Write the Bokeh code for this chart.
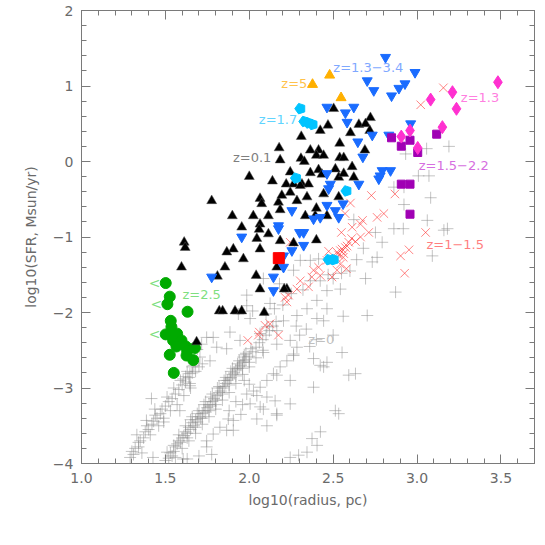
import math
from bokeh.plotting import figure
from bokeh.models import LinearAxis, SingleIntervalTicker, PrintfTickFormatter, CustomJSTickFormatter
from bokeh.core.properties import value
from bokeh.embed import file_html
from bokeh.resources import INLINE

# ---------------- data ----------------
# z=0 (gray plus)
z0_x = [1.29, 1.31, 1.32, 1.34, 1.35, 1.37, 1.38, 1.40, 1.42, 1.43, 1.45, 1.47, 1.48, 1.50, 1.52, 1.54, 1.56, 1.58, 1.60, 1.62, 1.64, 1.66, 1.68, 1.70, 1.72,
        1.33, 1.36, 1.41, 1.46, 1.49, 1.53, 1.57, 1.61, 1.65, 1.417, 1.437, 1.387, 1.646, 1.646, 1.586, 1.49, 1.426, 1.606, 1.63,
        1.716, 1.69, 1.746, 1.806, 1.766, 1.706, 1.606, 1.646, 1.66, 1.62,
        1.50, 1.52, 1.53, 1.55, 1.56, 1.57, 1.58, 1.60, 1.61, 1.62, 1.63, 1.64, 1.65, 1.66, 1.67, 1.68, 1.69, 1.70, 1.71, 1.72, 1.73, 1.74, 1.75, 1.76, 1.77, 1.78,
        1.79, 1.80, 1.81, 1.82, 1.83, 1.84, 1.85, 1.86, 1.87, 1.88, 1.89, 1.90, 1.91, 1.92, 1.93, 1.94, 1.95, 1.96, 1.97, 1.98, 2.00, 2.02, 2.04, 2.06, 2.08, 2.10,
        2.12, 2.14, 2.16,
        1.54, 1.59, 1.63, 1.68, 1.72, 1.76, 1.80, 1.84, 1.88, 1.92, 1.96, 2.00, 1.65, 1.70, 1.74, 1.78, 1.82, 1.86, 1.90, 1.94, 1.98,
        1.746, 1.785, 1.865, 1.905, 1.746, 1.825, 1.875, 1.905, 2.045, 2.065, 2.105, 2.154, 2.164, 2.005, 1.985, 2.025, 2.065, 2.105, 2.144, 2.184, 2.224, 2.264,
        2.284, 2.244, 2.164, 2.105, 2.084, 2.045, 2.383, 2.244, 2.164, 1.776, 1.70, 1.95, 1.96, 1.88, 1.92, 2.00, 1.97,
        2.553, 2.443, 2.383, 2.423, 2.513, 2.533, 2.424, 2.374, 2.404, 2.344, 2.294, 2.244, 2.593, 2.633,
        2.304, 2.364, 2.264, 2.084, 2.423, 2.463, 2.543, 2.403, 2.344, 2.463, 2.284, 2.403, 2.204, 1.985, 2.005, 2.124, 1.785, 1.885, 1.945, 2.244, 2.164, 2.264,
        2.463, 1.865, 1.965, 2.084, 2.064, 2.105, 2.164, 2.364, 2.443, 2.34, 2.30, 1.985, 1.935, 2.02,
        2.623, 2.762, 2.693, 2.733, 2.872, 2.703, 2.792, 2.752, 2.862, 2.918, 3.061, 3.091, 3.181, 3.16, 2.922, 3.081, 2.922, 2.862, 3.008, 3.071, 2.932, 3.057,
        3.19, 2.60, 2.64, 2.68, 2.50, 2.413,
        1.51, 1.55, 1.58, 1.62, 1.66, 1.69, 1.73, 1.77, 1.81, 1.85, 1.89, 1.93, 1.97, 2.01,
        1.56, 1.60, 1.64, 1.68, 1.72, 1.76, 1.80, 1.84, 1.88, 1.92, 1.96, 2.00, 2.04, 2.08,
        1.30, 1.34, 1.39, 1.44, 1.51, 1.55, 1.59, 1.63, 1.67,
        2.10, 2.15, 2.20, 2.25, 2.32, 2.18, 2.28, 2.36, 2.40, 2.50, 2.56, 2.47, 2.55]
z0_y = [-3.92, -3.88, -3.80, -3.78, -3.70, -3.66, -3.58, -3.55, -3.48, -3.44, -3.40, -3.34, -3.28, -3.24, -3.18, -3.14, -3.08, -3.02, -2.96, -2.92, -2.86, -2.80, -2.78, -2.72, -2.68,
        -3.62, -3.86, -3.62, -3.50, -3.40, -3.30, -3.22, -3.10, -3.00, -3.14, -3.28, -3.43, -2.97, -2.81, -3.30, -3.45, -3.92, -3.94, -3.94,
        -2.42, -2.49, -2.33, -2.46, -2.64, -2.59, -2.88, -2.94, -2.72, -2.85,
        -3.96, -3.93, -3.86, -3.84, -3.78, -3.74, -3.70, -3.66, -3.63, -3.58, -3.60, -3.52, -3.55, -3.46, -3.50, -3.42, -3.45, -3.38, -3.40, -3.34, -3.30, -3.32, -3.26, -3.22, -3.24, -3.18,
        -3.14, -3.16, -3.10, -3.06, -3.04, -3.00, -2.98, -2.94, -2.90, -2.88, -2.86, -2.82, -2.80, -2.76, -2.74, -2.72, -2.70, -2.66, -2.64, -2.62, -2.58, -2.52, -2.46, -2.40, -2.36, -2.30,
        -2.24, -2.18, -2.12,
        -3.90, -3.72, -3.66, -3.52, -3.40, -3.30, -3.22, -3.08, -2.96, -2.84, -2.74, -2.66, -3.42, -3.30, -3.18, -3.08, -2.98, -2.86, -2.74, -2.64, -2.54,
        -3.78, -3.61, -3.56, -3.56, -3.70, -3.52, -3.41, -3.43, -3.41, -3.25, -3.12, -3.17, -3.34, -3.21, -3.08, -3.04, -2.99, -2.90, -2.81, -2.72, -2.64, -2.55,
        -2.46, -3.21, -3.36, -3.50, -3.28, -3.10, -2.99, -2.90, -2.83, -3.88, -3.90, -3.35, -3.22, -3.30, -3.18, -2.95, -2.90,
        -2.53, -2.72, -2.61, -2.70, -3.30, -3.34, -3.58, -3.67, -3.76, -3.85, -3.89, -3.92, -2.83, -2.81,
        -1.31, -1.31, -1.44, -1.55, -1.58, -1.71, -1.69, -1.84, -1.95, -1.95, -2.04, -2.08, -2.11, -1.91, -2.08, -1.88, -2.33, -2.26, -2.37, -2.37, -2.42, -2.57,
        -2.66, -2.48, -2.59, -2.53, -2.28, -2.19, -2.24, -1.58, -2.11, -2.22, -2.30, -1.77, -2.02, -1.98,
        -0.77, -1.27, -1.55, -1.33, -1.73, -2.04, -1.07, -0.94, -0.89, -0.89, -0.78, -1.25, -0.89, -0.91, -0.57, -0.48, -0.34, -0.34, -0.19, -0.19, 0.10, 0.17,
        0.20, -1.45, -1.30, -1.15, -1.55, -1.29,
        -3.85, -3.76, -3.62, -3.50, -3.38, -3.34, -3.22, -3.12, -3.00, -2.90, -2.78, -2.68, -2.56, -2.48,
        -3.92, -3.80, -3.70, -3.60, -3.48, -3.38, -3.28, -3.16, -3.06, -2.94, -2.82, -2.72, -2.60, -2.50,
        -3.84, -3.72, -3.50, -3.36, -3.12, -3.00, -2.90, -2.78, -2.70,
        -2.02, -1.95, -1.90, -1.75, -1.70, -1.62, -2.18, -2.45, -2.36, -2.30, -2.05, -1.50, -1.48]

# z=0.1 (black triangles)
z01_x = [2.503, 2.469, 2.423, 2.310, 2.539, 2.178, 2.184, 2.364, 2.413, 2.400, 2.443, 2.308, 2.328, 2.539, 2.563, 2.000, 2.138, 2.244, 2.364, 2.413,
         2.433, 2.513, 2.533, 2.563, 2.220, 2.264, 2.314, 2.353, 2.722, 2.653, 2.693, 2.718, 2.689, 2.613, 2.623, 2.603, 1.776, 1.899, 1.955, 2.024,
         2.064, 2.074, 2.114, 2.064, 2.059, 2.045, 2.114, 2.174, 2.194, 2.244, 2.284, 2.344, 2.334, 2.393, 2.443, 2.533, 2.463, 2.400, 2.184, 2.064,
         1.905, 1.866, 1.965, 1.855, 1.612, 1.618, 1.596, 1.810, 2.041, 2.164, 2.064, 2.224, 2.208, 1.821, 1.841, 1.915, 1.955, 2.089, 1.686, 2.264,
         2.304, 2.184, 2.400]
z01_y = [0.70, 0.48, 0.41, 0.33, 0.24, 0.18, 0.02, 0.15, 0.15, 0.08, 0.08, 0.04, 0.00, 0.05, 0.05, -0.20, -0.26, -0.14, -0.15, -0.11,
         -0.17, -0.10, -0.21, -0.16, -0.30, -0.30, -0.30, -0.30, 0.58, 0.49, 0.50, 0.41, 0.15, -0.07, -0.21, 0.38, -0.52, -0.72, -0.87, -0.72,
         -0.49, -0.56, -0.72, -0.83, -0.90, -1.02, -0.96, -0.54, -0.45, -0.41, -0.52, -0.47, -0.72, -0.72, -0.43, -0.47, -0.72, -1.04, -1.05, -1.16,
         -1.16, -1.20, -1.29, -1.40, -1.07, -1.14, -1.40, -1.52, -1.51, -1.40, -1.69, -1.69, -1.69, -1.98, -1.98, -1.98, -1.98, -2.00, -2.39, -1.08,
         -0.32, -0.64, -0.62]

# z=1.3-3.4 (blue inverted triangles)
zb_x = [2.812, 2.988, 2.703, 2.742, 2.848, 2.892, 2.928, 2.463, 2.573, 2.623, 2.583, 2.647, 2.677, 2.733, 2.832, 2.962, 2.792, 2.842, 2.463, 2.772,
        2.483, 2.473, 2.653, 2.463, 2.559, 2.513, 2.533, 2.254, 2.383, 2.423, 2.174, 2.174, 2.300, 2.324, 1.955, 2.324, 2.254, 2.204, 2.204, 2.144,
        2.144, 1.776, 2.780]
zb_y = [1.38, 1.18, 1.07, 0.94, 0.87, 0.97, 1.03, 0.72, 0.645, 0.72, 0.52, 0.26, 0.06, 0.35, 0.35, 0.50, -0.12, -0.12, -0.16, -0.23,
        -0.30, -0.36, -0.30, -0.58, -0.56, -0.65, -0.74, -0.65, -0.76, -0.74, -0.85, -0.89, -0.94, -0.94, -1.00, -1.11, -1.18, -1.25, -1.40, -1.53,
        -1.71, -1.53, -0.19]

# z=1.3 (magenta diamonds)
z13_x = [3.081, 3.211, 3.235, 3.482, 3.151, 2.958, 2.906, 3.004]
z13_y = [0.82, 0.918, 0.698, 1.05, 0.455, 0.41, 0.33, 0.18]

# z=1.5-2.2 (purple squares)
z15_x = [2.848, 2.906, 2.958, 3.004, 3.117, 2.906, 2.958, 2.958]
z15_y = [0.314, 0.203, 0.282, 0.119, 0.362, -0.30, -0.30, -0.698]

# z=5 (orange triangles)
z5_x = [2.377, 2.479, 2.547]
z5_y = [1.02, 1.143, 0.844]

# z=1.7 (cyan pentagons)
z17_x = [2.304, 2.328, 2.377, 2.353, 2.278, 2.579, 2.473, 2.503]
z17_y = [0.70, 0.53, 0.49, 0.51, -0.22, -0.39, -1.30, -1.30]

# single red square
zr_x = [2.176]
zr_y = [-1.28]

# z=2.5 (green circles) and upper-limit flags
z25_x = [1.502, 1.526, 1.512, 1.632, 1.532, 1.536, 1.502, 1.536, 1.570, 1.546, 1.596, 1.566, 1.622, 1.630, 1.676, 1.526, 1.626, 1.666, 1.550]
z25_y = [-1.61, -1.79, -1.89, -1.99, -2.11, -2.19, -2.29, -2.30, -2.28, -2.37, -2.37, -2.45, -2.45, -2.51, -2.47, -2.56, -2.57, -2.63, -2.80]
z25_lim = [1, 0, 1, 0, 0, 0, 1, 0, 0, 0, 0, 0, 0, 0, 0, 0, 0, 0, 0]

# z=1-1.5 (red x)
z1_x = [3.022, 3.157, 2.728, 2.868, 2.603, 2.571, 2.802, 2.762, 3.051, 2.952, 2.902, 2.926, 2.663, 2.712, 2.613, 2.549, 2.663, 2.633, 2.593, 2.573,
        2.543, 2.563, 2.523, 2.473, 2.543, 2.579, 2.523, 2.493, 2.423, 2.383, 2.304, 2.353, 2.284, 2.234, 2.224, 2.244, 2.124, 2.060, 2.174, 1.991,
        2.094, 2.054, 2.675, 2.463, 2.413, 2.373, 2.214, 2.553, 2.533, 2.583, 2.560, 2.610, 2.520]
z1_y = [0.751, 0.976, -0.45, -0.43, -0.55, -0.69, -0.69, -0.74, -0.94, -1.17, -1.25, -1.48, -0.83, -0.94, -0.87, -0.94, -1.00, -1.06, -1.07, -1.14,
        -1.18, -1.22, -1.20, -1.19, -1.36, -1.42, -1.44, -1.53, -1.51, -1.44, -1.58, -1.66, -1.69, -1.77, -1.86, -1.07, -2.15, -2.26, -2.30, -2.37,
        -2.17, -2.30, -0.78, -1.31, -1.40, -1.53, -1.80, -1.16, -1.24, -1.12, -1.27, -1.02, -1.28]

# labels
lab_text = ["z=5", "z=1.3\u22123.4", "z=1.3", "z=1.7", "z=0.1", "z=1.5\u22122.2", "z=1\u22121.5", "z=2.5", "z=0"]
lab_x = [2.346, 2.501, 3.261, 2.286, 1.903, 3.010, 3.056, 1.602, 2.352]
lab_y = [1.037, 1.249, 0.844, 0.556, 0.049, -0.053, -1.099, -1.762, -2.362]
lab_align = ["right", "left", "left", "right", "left", "left", "left", "left", "left"]
lab_color = ["#ffc24a", "#7fa8ff", "#ff7fdf", "#5fd4ff", "#7f7f7f", "#d66fe0", "#ff7f7f", "#7fdf7f", "#c0c0c0"]

FONT = "DejaVu Sans"
AX = "#7a7a7a"

p = figure(frame_width=453, frame_height=453, x_range=(1.0, 3.7), y_range=(-4.0, 2.0),
           min_border_left=81, min_border_right=6, min_border_top=10, min_border_bottom=62,
           output_backend="svg", toolbar_location=None, background_fill_color="white")
p.xgrid.visible = False
p.ygrid.visible = False
p.outline_line_color = AX

xt = SingleIntervalTicker(interval=0.5, num_minor_ticks=5)
yt = SingleIntervalTicker(interval=1.0, num_minor_ticks=5)
yfmt = CustomJSTickFormatter(code="return tick < 0 ? '\u2212' + (-tick).toFixed(0) : tick.toFixed(0);")
blank = CustomJSTickFormatter(code="return '';")

def style(ax, show):
    ax.axis_line_color = AX
    ax.major_tick_line_color = AX
    ax.minor_tick_line_color = AX
    ax.major_tick_in = 9
    ax.major_tick_out = 0
    ax.minor_tick_in = 5
    ax.minor_tick_out = 0
    ax.major_label_text_font = FONT
    ax.major_label_text_color = "#6a6a6a"
    ax.axis_label_text_font = FONT
    ax.axis_label_text_font_style = "normal"
    ax.axis_label_text_color = "#6a6a6a"
    ax.major_label_text_font_size = "14px"
    ax.axis_label_text_font_size = "14px"
    if not show:
        ax.formatter = blank
        ax.major_label_standoff = 0

xa = p.xaxis[0]
xa.ticker = xt
xa.formatter = PrintfTickFormatter(format="%.1f")
xa.axis_label = "log10(radius, pc)"
style(xa, True)
xa.major_label_standoff = 9
xa.axis_label_standoff = 6

ya = p.yaxis[0]
ya.ticker = yt
ya.formatter = yfmt
ya.axis_label = "log10(SFR, Msun/yr)"
style(ya, True)
ya.major_label_standoff = 8
ya.axis_label_standoff = 11

top = LinearAxis(ticker=SingleIntervalTicker(interval=0.5, num_minor_ticks=5))
style(top, False)
p.add_layout(top, "above")
right = LinearAxis(ticker=SingleIntervalTicker(interval=1.0, num_minor_ticks=5))
style(right, False)
p.add_layout(right, "right")

# z=0 gray pluses
p.scatter(z0_x, z0_y, marker="cross", size=12, line_color="#8a8a8a", line_alpha=0.5, line_width=1)
# z=1-1.5 red x
p.scatter(z1_x, z1_y, marker="x", size=12, line_color="#ff3030", line_alpha=0.6, line_width=1)
# z=2.5 green
p.scatter(z25_x, z25_y, marker="circle", size=11, fill_color="#00aa00", line_color="#00aa00")
lx = [x for x, f in zip(z25_x, z25_lim) if f]
ly = [y for y, f in zip(z25_y, z25_lim) if f]
p.text(lx, ly, text=["<"] * len(lx), x_offset=-11, text_align="center", text_baseline="middle",
       text_font=value(FONT), text_font_size="14px", text_color="#7fdf7f")
# z=0.1 black triangles
p.scatter(z01_x, z01_y, marker="triangle", size=10, fill_color="black", line_color="#555555", line_width=0.5)
# blue inverted triangles
p.scatter(zb_x, zb_y, marker="inverted_triangle", size=10, fill_color="#1a6cff", line_color="#1a6cff")
# cyan pentagons
try:
    p.ngon(x=z17_x, y=z17_y, radius=5.5, radius_units="screen", n=5, angle=math.pi / 2,
           fill_color="#00c4ff", line_color="#00c4ff")
except Exception:
    p.scatter(z17_x, z17_y, marker="hex", size=10, fill_color="#00c4ff", line_color="#00c4ff")
# red square
p.scatter(zr_x, zr_y, marker="square", size=11, fill_color="#ff0000", line_color="#ff0000")
# purple squares
p.scatter(z15_x, z15_y, marker="square", size=8, fill_color="#a000b4", line_color="#a000b4")
# magenta diamonds
p.scatter(z13_x, z13_y, marker="diamond", size=13, fill_color="#ff30d0", line_color="#ff30d0")
# orange triangles
p.scatter(z5_x, z5_y, marker="triangle", size=10, fill_color="#ffb000", line_color="#ffb000")

# labels
for t, x, y, a, c in zip(lab_text, lab_x, lab_y, lab_align, lab_color):
    p.text([x], [y], text=[t], text_align=a, text_baseline="middle",
           text_font=value(FONT), text_font_size="13px", text_color=c)

open("out.html", "w").write(file_html(p, INLINE))
